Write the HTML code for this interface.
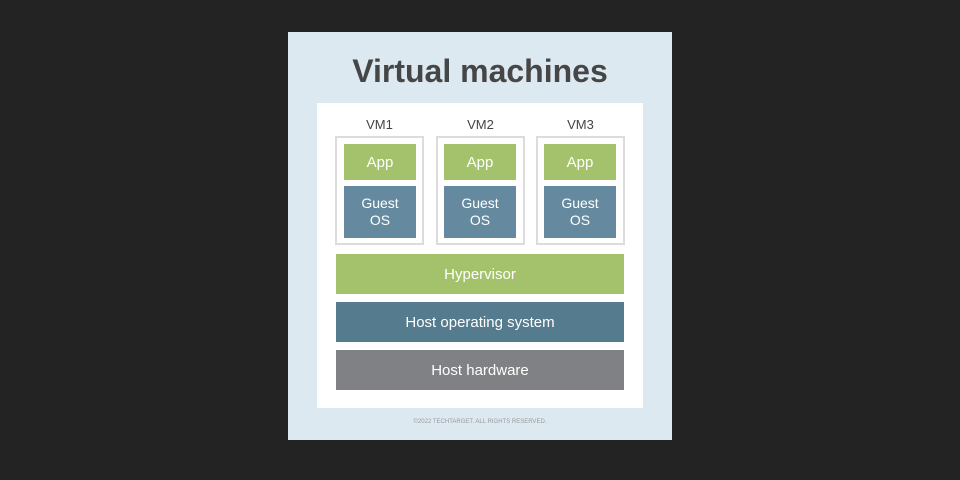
<!DOCTYPE html>
<html><head><style>
body{margin:0;width:960px;height:480px;background:#232323;position:relative;overflow:hidden;font-family:"Liberation Sans",sans-serif}
div{position:absolute;box-sizing:border-box}
.c{display:flex;align-items:center;justify-content:center;text-align:center;color:#fff}
.vm{border:2px solid #dcdcdc;background:#fff}
.lab{font-size:13px;color:#444;width:89px;text-align:center}
.app{background:#a3c26b;font-size:15px;line-height:17px}
.os{background:#658aa0;font-size:14px;line-height:17px}
</style></head><body>
<div style="left:288px;top:32px;width:384px;height:408px;background:#dde9f1"></div>
<div style="left:288px;top:53px;width:384px;text-align:center;font-size:32px;font-weight:bold;color:#464646;letter-spacing:0px">Virtual machines</div>
<div style="left:317px;top:103px;width:326px;height:305px;background:#fff"></div>
<div class="lab" style="left:335px;top:117px">VM1</div>
<div class="lab" style="left:436px;top:117px">VM2</div>
<div class="lab" style="left:536px;top:117px">VM3</div>
<div class="vm" style="left:335px;top:136px;width:89px;height:109px"></div>
<div class="vm" style="left:436px;top:136px;width:89px;height:109px"></div>
<div class="vm" style="left:536px;top:136px;width:89px;height:109px"></div>
<div class="c app" style="left:344px;top:144px;width:72px;height:36px">App</div>
<div class="c app" style="left:444px;top:144px;width:72px;height:36px">App</div>
<div class="c app" style="left:544px;top:144px;width:72px;height:36px">App</div>
<div class="c os" style="left:344px;top:186px;width:72px;height:52px">Guest<br>OS</div>
<div class="c os" style="left:444px;top:186px;width:72px;height:52px">Guest<br>OS</div>
<div class="c os" style="left:544px;top:186px;width:72px;height:52px">Guest<br>OS</div>
<div class="c" style="left:336px;top:254px;width:288px;height:40px;background:#a3c26b;font-size:15px">Hypervisor</div>
<div class="c" style="left:336px;top:302px;width:288px;height:40px;background:#557b8e;font-size:15px">Host operating system</div>
<div class="c" style="left:336px;top:350px;width:288px;height:40px;background:#808184;font-size:15px">Host hardware</div>
<div style="left:288px;top:419px;width:384px;text-align:center;font-size:6px;color:#999">©2022 TECHTARGET. ALL RIGHTS RESERVED.</div>
</body></html>
